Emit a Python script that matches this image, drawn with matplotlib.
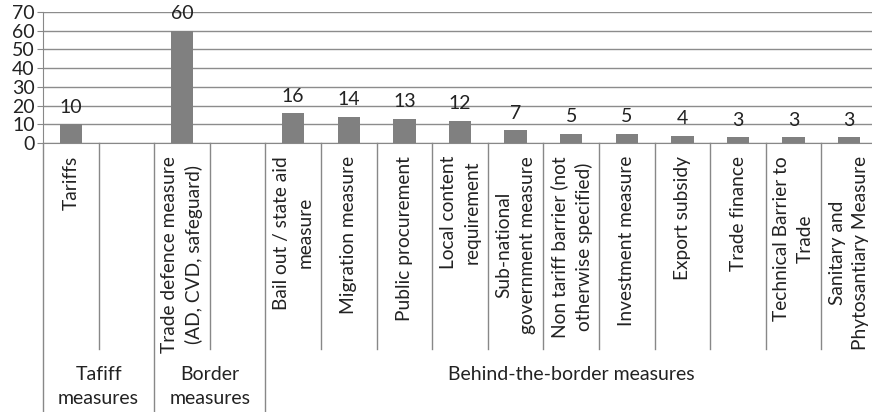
import matplotlib.pyplot as plt
from matplotlib.transforms import blended_transform_factory

plt.rcParams['font.family'] = ['Lato', 'DejaVu Sans']

categories = [
    "Tariffs", "",
    "Trade defence measure\n(AD, CVD, safeguard)", "",
    "Bail out / state aid\nmeasure",
    "Migration measure",
    "Public procurement",
    "Local content\nrequirement",
    "Sub-national\ngovernment measure",
    "Non tariff barrier (not\notherwise specified)",
    "Investment measure",
    "Export subsidy",
    "Trade finance",
    "Technical Barrier to\nTrade",
    "Sanitary and\nPhytosantiary Measure",
]
values = [10, None, 60, None, 16, 14, 13, 12, 7, 5, 5, 4, 3, 3, 3]
groups = ["Tafiff\nmeasures", "Border\nmeasures", "Behind-the-border measures"]
group_spans = [(0, 1), (2, 3), (4, 14)]

W, H = 872, 412
fig = plt.figure(figsize=(W / 100, H / 100), dpi=100)
ax = fig.add_axes([43 / W, (H - 143) / H, (877 - 43) / W, 131 / H])

xs = list(range(len(categories)))
bx = [x for x, v in zip(xs, values) if v is not None]
bv = [v for v in values if v is not None]
ax.bar(bx, bv, width=0.4, color="#808080", zorder=3)
for x, v in zip(bx, bv):
    ax.annotate(str(v), (x, v), xytext=(0, 6), textcoords="offset points",
                ha="center", va="bottom", fontsize=14, color="#222222")

ax.set_ylim(0, 70)
ax.set_xlim(-0.5, len(categories) - 0.5)
ax.set_yticks(range(0, 71, 10))
ax.tick_params(axis="y", labelsize=14, labelcolor="#222222", length=4,
               color="#888888", pad=2)
ax.set_xticks([])
ax.yaxis.grid(True, color="#8c8c8c", linewidth=1)
ax.set_axisbelow(True)
for s in ["top", "right"]:
    ax.spines[s].set_visible(False)
ax.spines["left"].set_color("#888888")
ax.spines["bottom"].set_color("#888888")

trans = blended_transform_factory(ax.transData, ax.transAxes)
px = lambda p: (143 - p) / 131.0  # pixel row -> axes fraction

for x, lab in zip(xs, categories):
    ax.text(x, px(156), lab, transform=trans, rotation=90, ha="center",
            va="top", multialignment="center", fontsize=13.8,
            color="#222222", linespacing=1.45, clip_on=False)

group_edges = set(s - 0.5 for s, e in group_spans)
for b in range(1, len(categories)):
    edge = b - 0.5
    bottom = px(412) if edge in group_edges else px(349)
    ax.plot([edge, edge], [0, bottom], transform=trans, color="#888888",
            linewidth=1, clip_on=False)
ax.plot([-0.5, -0.5], [0, px(412)], transform=trans, color="#888888",
        linewidth=1, clip_on=False)

for g, (s, e) in zip(groups, group_spans):
    ax.text((s + e) / 2, px(366), g, transform=trans, ha="center", va="top",
            fontsize=14, color="#222222", linespacing=1.5, clip_on=False)

fig.savefig("out.png", dpi=100, facecolor="white")
